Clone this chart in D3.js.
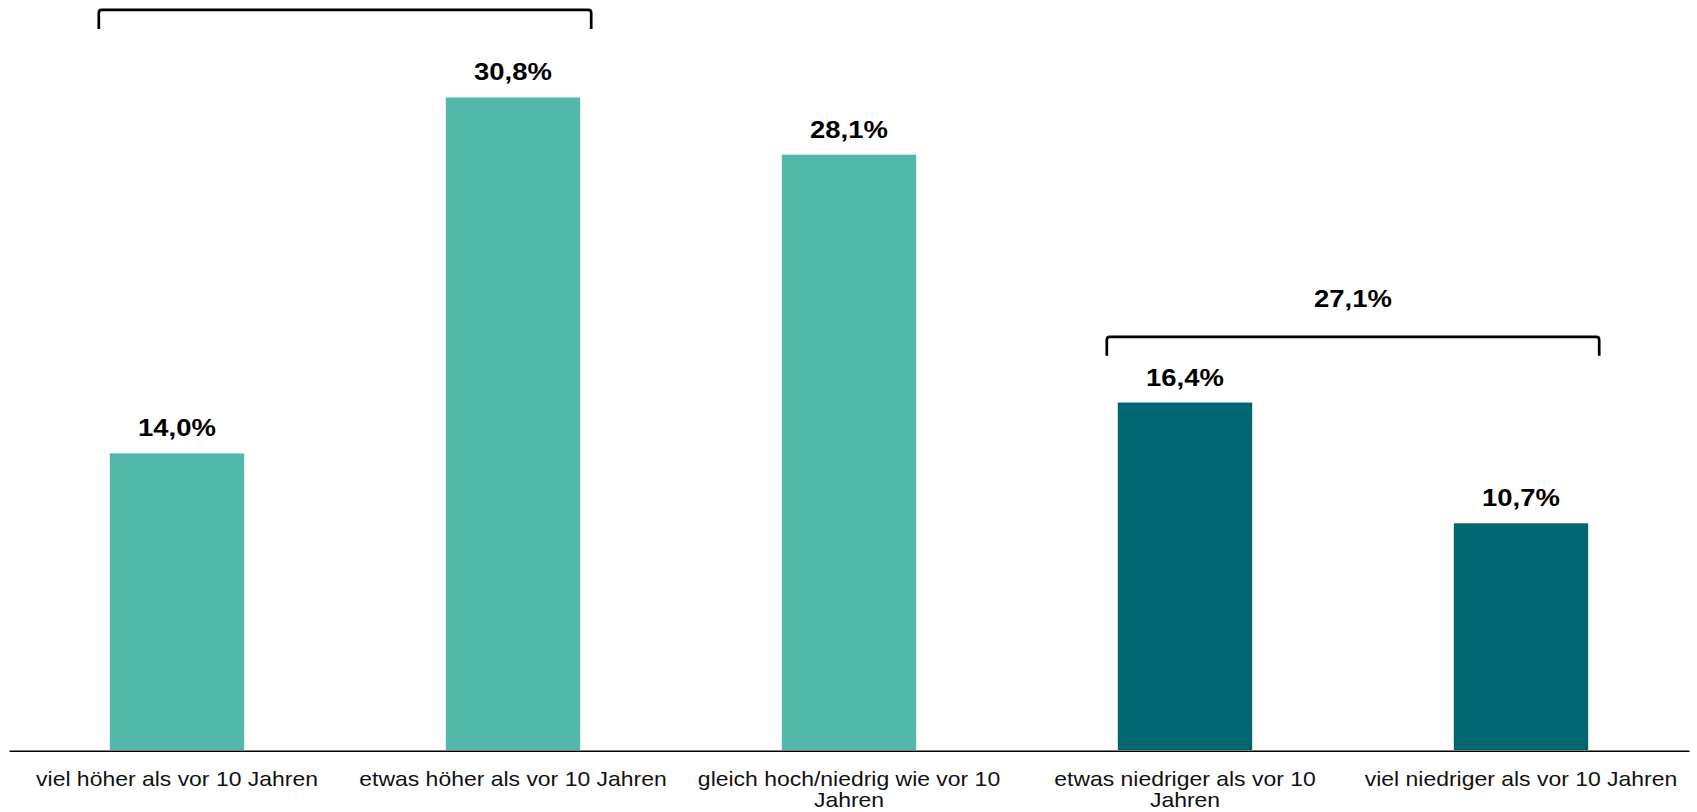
<!DOCTYPE html>
<html>
<head>
<meta charset="utf-8">
<script src="https://cdn.jsdelivr.net/npm/d3@7"></script>
<style>
  html, body { margin: 0; padding: 0; background: #fff; }
  svg { display: block; }
  text { font-family: "Liberation Sans", Arial, sans-serif; }
</style>
</head>
<body>
<svg id="chart" width="1697" height="812"></svg>
<script>
// ---- data ----
const categories = [
  ["viel höher als vor 10 Jahren"],
  ["etwas höher als vor 10 Jahren"],
  ["gleich hoch/niedrig wie vor 10", "Jahren"],
  ["etwas niedriger als vor 10", "Jahren"],
  ["viel niedriger als vor 10 Jahren"]
];
const values = [14.0, 30.8, 28.1, 16.4, 10.7];
const valueLabels = ["14,0%", "30,8%", "28,1%", "16,4%", "10,7%"];
const groupOf = [0, 0, 0, 1, 1];           // 0 = light teal, 1 = dark teal
const groupColors = ["#52B9AA", "#00666F"];
// brackets: first and last category index, level (in % units), label
const bracketFrom = [0, 3];
const bracketTo = [1, 4];
const bracketLevel = [34.93, 19.5];
const bracketLabels = ["44,8%", "27,1%"];

// ---- layout ----
const svg = d3.select("#chart");
const stretch = 1.12;

const x = d3.scaleBand()
  .domain(d3.range(values.length))
  .range([9, 1689])
  .paddingInner(0.6)
  .paddingOuter(0.3);

const y = d3.scaleLinear().domain([0, 35.4]).range([750, 0]);

// bars
svg.append("g").selectAll("rect")
  .data(values)
  .join("rect")
  .attr("x", (d, i) => x(i))
  .attr("y", d => y(d))
  .attr("width", x.bandwidth())
  .attr("height", d => y(0) - y(d))
  .attr("fill", (d, i) => groupColors[groupOf[i]]);

// baseline axis
const xAxis = d3.axisBottom(x).tickSize(0).tickFormat("");
const axisG = svg.append("g").attr("transform", `translate(0,${y(0) + 0.75})`).call(xAxis);
axisG.select(".domain").attr("stroke", "#000").attr("stroke-width", 1.6);

// value labels
svg.append("g").selectAll("text")
  .data(values)
  .join("text")
  .attr("transform", (d, i) => `translate(${x(i) + x.bandwidth() / 2},${y(d) - 17}) scale(${stretch},1)`)
  .attr("text-anchor", "middle")
  .attr("font-size", 24.5)
  .attr("font-weight", "bold")
  .attr("fill", "#000")
  .text((d, i) => valueLabels[i]);

// category labels
const catG = svg.append("g").selectAll("text")
  .data(categories)
  .join("text")
  .attr("transform", (d, i) => `translate(${x(i) + x.bandwidth() / 2},786) scale(${stretch},1)`)
  .attr("text-anchor", "middle")
  .attr("font-size", 20.5)
  .attr("fill", "#111");
catG.selectAll("tspan")
  .data(d => d)
  .join("tspan")
  .attr("x", 0)
  .attr("dy", (d, j) => j === 0 ? 0 : 21)
  .text(d => d);

// brackets
const legH = 19;
bracketFrom.forEach((a, k) => {
  const b = bracketTo[k];
  const x0 = x(a) - 11;
  const x1 = x(b) + x.bandwidth() + 11;
  const yt = y(bracketLevel[k]);
  const r = 3;
  const p = d3.path();
  p.moveTo(x0, yt + legH);
  p.lineTo(x0, yt + r);
  p.quadraticCurveTo(x0, yt, x0 + r, yt);
  p.lineTo(x1 - r, yt);
  p.quadraticCurveTo(x1, yt, x1, yt + r);
  p.lineTo(x1, yt + legH);
  svg.append("path")
    .attr("d", p.toString())
    .attr("fill", "none")
    .attr("stroke", "#000")
    .attr("stroke-width", 2.7);
  const ly = yt - 30;
  if (ly > 20) {
    svg.append("text")
      .attr("transform", `translate(${(x0 + x1) / 2},${ly}) scale(${stretch},1)`)
      .attr("text-anchor", "middle")
      .attr("font-size", 24.5)
      .attr("font-weight", "bold")
      .attr("fill", "#000")
      .text(bracketLabels[k]);
  }
});
</script>
</body>
</html>
